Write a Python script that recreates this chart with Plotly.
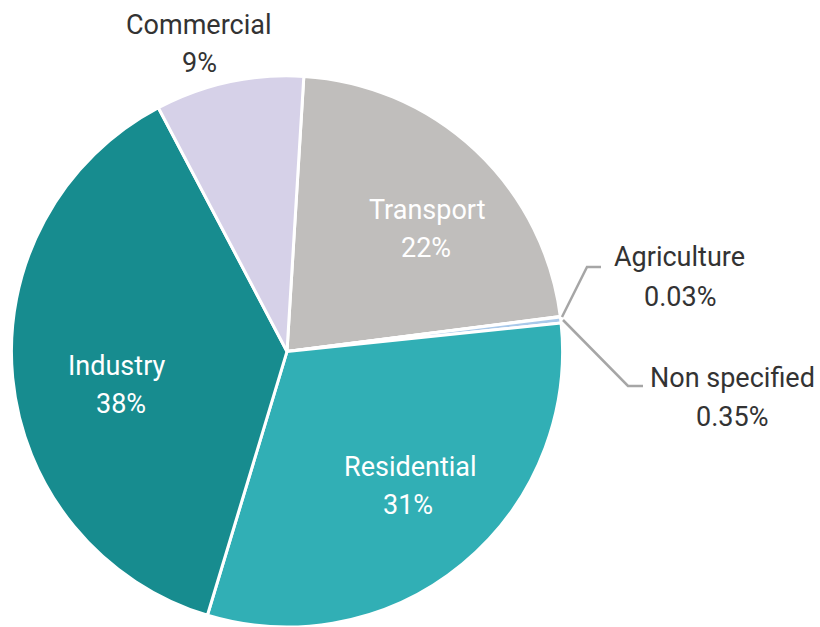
import plotly.graph_objects as go

labels = ["Transport", "Agriculture", "Non specified", "Residential", "Industry", "Commercial"]
values = [22.0, 0.03, 0.35, 31.3, 37.6, 8.7]
pct_text = ["22%", "0.03%", "0.35%", "31%", "38%", "9%"]
colors = ["#c0bebc", "#d9e6f2", "#a9c9ea", "#31afb5", "#178c8f", "#d6d1e8"]

FONT = "Roboto"
TXT = "#333333"
LINE = "#a6a6a6"
W, H = 820, 627

fig = go.Figure(go.Pie(
    labels=labels, values=values, textinfo="none",
    marker={"colors": colors, "line": {"color": "white", "width": 3}},
    sort=False, direction="clockwise", rotation=3.5,
    domain={"x": [11 / W, 563 / W], "y": [0, 0.879]},
    showlegend=False, hoverinfo="label+percent",
))


def px(x, y):
    return x / W, 1 - y / H


# label placement (pixel centres of name line and percent line)
label_pos = {
    "Transport": ((427, 210), (426, 248), "white"),
    "Residential": ((410, 467), (408, 505), "white"),
    "Industry": ((117, 366), (121, 404), "white"),
    "Commercial": ((199, 25), (199, 63), TXT),
    "Agriculture": ((679, 257), (680, 297), TXT),
    "Non specified": ((732, 378), (732, 417), TXT),
}
for name, pct in zip(labels, pct_text):
    p1, p2, col = label_pos[name]
    for txt, p in ((name, p1), (pct, p2)):
        x, y = px(*p)
        fig.add_annotation(x=x, y=y, xref="paper", yref="paper", text=txt,
                           showarrow=False, xanchor="center", yanchor="middle",
                           font={"family": FONT, "size": 27, "color": col})

# leader lines for the two tiny slices
for pts in ([(562, 317), (587, 267), (601, 267)],
            [(563, 320), (628, 386), (643, 386)]):
    path = "M " + " L ".join(f"{x / W},{1 - y / H}" for x, y in pts)
    fig.add_shape(type="path", path=path, xref="paper", yref="paper",
                  line={"color": LINE, "width": 2.5})

fig.update_layout(
    width=W, height=H,
    margin={"l": 0, "r": 0, "t": 0, "b": 0},
    paper_bgcolor="white", plot_bgcolor="white",
    font={"family": FONT},
)

fig.write_html("out.html", config={"displayModeBar": False},
               post_script="document.body.style.margin='0';")
